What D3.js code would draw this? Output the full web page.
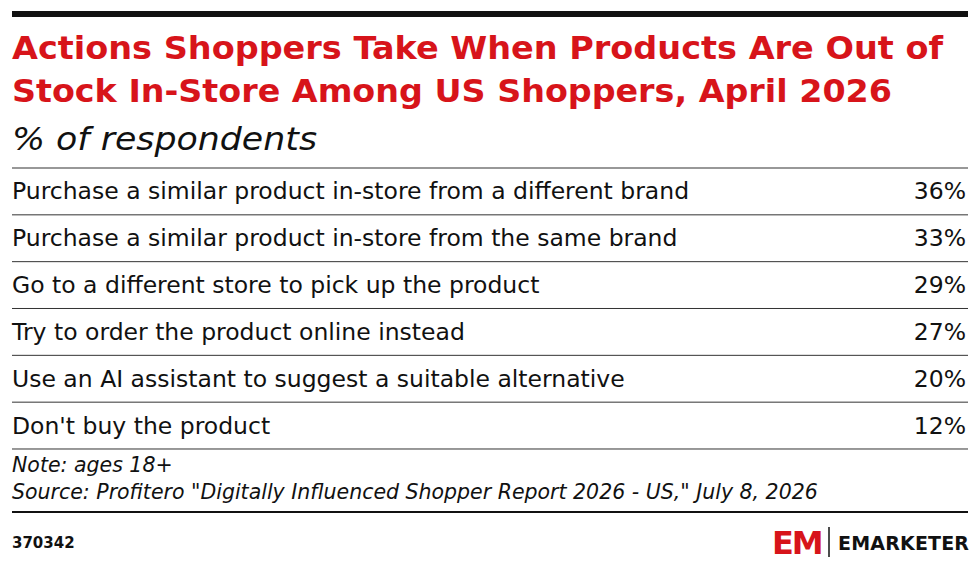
<!DOCTYPE html>
<head><style>body{margin:0;background:#fff;} text{font-family:"DejaVu Sans","Open Sans",sans-serif;}</style></head>
<body>
<div class="container"></div>
<script src="https://d3js.org/d3.v7.min.js"></script>
<script>
var categories = [
    "Purchase a similar product in-store from a different brand",
    "Purchase a similar product in-store from the same brand",
    "Go to a different store to pick up the product",
    "Try to order the product online instead",
    "Use an AI assistant to suggest a suitable alternative",
    "Don't buy the product"
];
var values = [36, 33, 29, 27, 20, 12];
var titleLines = ["Actions Shoppers Take When Products Are Out of", "Stock In-Store Among US Shoppers, April 2026"];
var subtitle = "% of respondents";
var notes = ["Note: ages 18+", "Source: Profitero \"Digitally Influenced Shopper Report 2026 - US,\" July 8, 2026"];
var chartId = "370342";

var svg = d3.select('.container').append('svg')
            .attr('width', 980).attr('height', 569);

svg.append('rect').attr('x', 12).attr('y', 11).attr('width', 956).attr('height', 6).attr('fill', '#111');

svg.selectAll('.title').data(titleLines).enter().append('text')
   .attr('x', 12).attr('y', function(d, i) { return 59 + i * 43; })
   .attr('font-size', 32).attr('font-weight', 700).attr('fill', '#d7141a')
   .attr('textLength', function(d, i) { return i ? 880 : 931; }).attr('lengthAdjust', 'spacingAndGlyphs')
   .text(function(d) { return d; });

svg.append('text').attr('x', 12).attr('y', 150).attr('font-size', 32)
   .attr('font-style', 'italic').attr('fill', '#111')
   .attr('textLength', 305).attr('lengthAdjust', 'spacingAndGlyphs').text(subtitle);

var y = d3.scaleBand().domain(categories).range([168, 449]);

svg.append('line').attr('x1', 12).attr('x2', 968).attr('y1', 168).attr('y2', 168)
   .attr('stroke', '#333').attr('stroke-width', 1.2);

var rows = svg.selectAll('.row').data(categories).enter().append('g')
   .attr('transform', function(d) { return 'translate(0,' + y(d) + ')'; });
rows.append('text').attr('x', 12).attr('y', y.bandwidth() / 2 + 8)
   .attr('font-size', 23.5).attr('fill', '#111').text(function(d) { return d; });
rows.append('text').attr('x', 966).attr('y', y.bandwidth() / 2 + 8).attr('text-anchor', 'end')
   .attr('font-size', 23.5).attr('fill', '#111').text(function(d, i) { return values[i] + '%'; });
rows.append('line').attr('x1', 12).attr('x2', 968)
   .attr('y1', y.bandwidth()).attr('y2', y.bandwidth())
   .attr('stroke', '#333').attr('stroke-width', 1);

svg.selectAll('.note').data(notes).enter().append('text')
   .attr('x', 12).attr('y', function(d, i) { return 472 + i * 27; })
   .attr('font-size', 20.5).attr('font-style', 'italic').attr('fill', '#111')
   .text(function(d) { return d; });

svg.append('line').attr('x1', 12).attr('x2', 968).attr('y1', 512).attr('y2', 512)
   .attr('stroke', '#111').attr('stroke-width', 2);

svg.append('text').attr('x', 12).attr('y', 548).attr('font-size', 15).attr('font-weight', 700)
   .attr('fill', '#111').text(chartId);

// logo
var logo = svg.append('g').attr('transform', 'translate(772,527)');
logo.append('text').attr('x', 0).attr('y', 27).attr('font-size', 32).attr('font-weight', 800)
    .attr('fill', '#d7141a').attr('letter-spacing', -2).text('EM');
logo.append('line').attr('x1', 57).attr('x2', 57).attr('y1', 0).attr('y2', 30).attr('stroke', '#111').attr('stroke-width', 1.5);
logo.append('text').attr('x', 66).attr('y', 23).attr('font-size', 19).attr('font-weight', 700)
    .attr('fill', '#111').attr('letter-spacing', 1).attr('textLength', 132).text('EMARKETER');
</script>
</body>
